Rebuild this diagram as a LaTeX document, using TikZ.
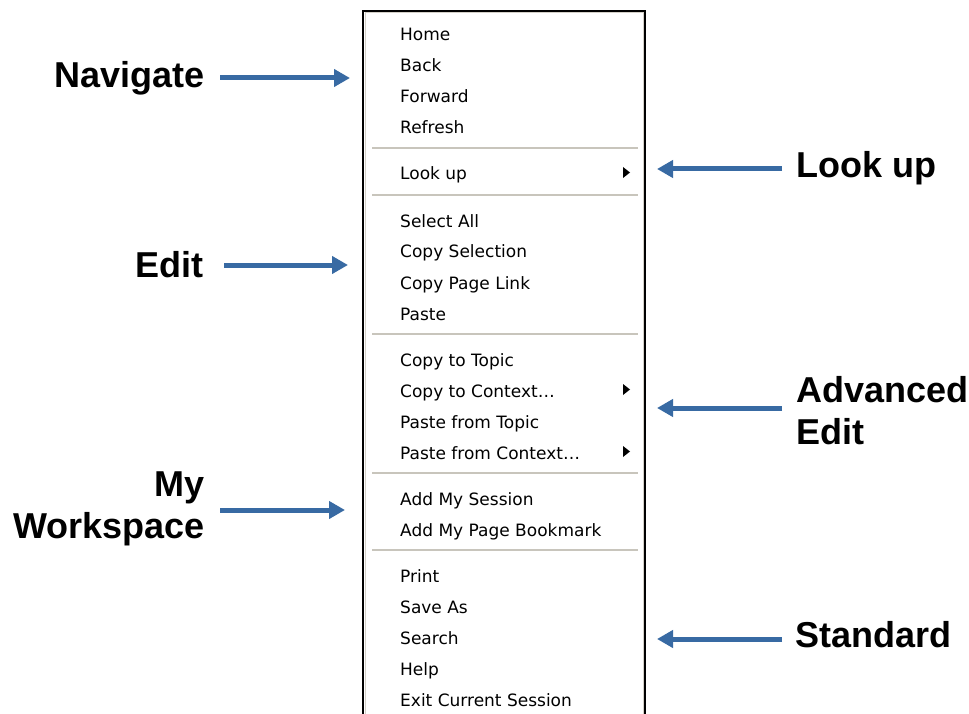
\documentclass[tikz,border=0pt]{standalone}
\usepackage{fontspec}
\setmainfont{Liberation Sans}
\newfontfamily\menufont{DejaVu Sans}
\usetikzlibrary{arrows.meta}
\definecolor{arrowblue}{RGB}{56,106,163}
\definecolor{sepgray}{RGB}{200,197,188}
\definecolor{framegray}{RGB}{212,208,200}

\tikzset{
  item/.style={anchor=base west, inner sep=0pt,
    font=\menufont\fontsize{17}{17}\selectfont},
  callout/.style={inner sep=0pt, font=\bfseries\fontsize{36}{42}\selectfont},
  pointer/.style={draw=arrowblue, line width=5pt,
    -{Triangle[length=16pt,width=17pt]}},
  sepline/.style={draw=sepgray, line width=1.6pt},
  submark/.style={fill=black},
}

\begin{document}
\begin{tikzpicture}[x=1pt,y=-1pt]
\useasboundingbox (0,0) rectangle (969,714);
\clip (0,0) rectangle (969,714);
\fill[white] (0,0) rectangle (969,714);

% context menu frame
\draw[black, line width=2pt] (363,11) rectangle (645,740);
\draw[framegray, line width=1pt] (365,13) rectangle (643,740);

% menu entries
\node[item] (home)    at (400,41)  {Home};
\node[item] (back)    at (400,72)  {Back};
\node[item] (forward) at (400,103) {Forward};
\node[item] (refresh) at (400,134) {Refresh};
\node[item] (lookup)  at (400,180) {Look up};
\node[item] (selall)  at (400,227) {Select All};
\node[item] (copysel) at (400,258) {Copy Selection};
\node[item] (copylnk) at (400,289) {Copy Page Link};
\node[item] (paste)   at (400,320) {Paste};
\node[item] (cptopic) at (400,366) {Copy to Topic};
\node[item] (cpctx)   at (400,397) {Copy to Context\ldots};
\node[item] (pstopic) at (400,428) {Paste from Topic};
\node[item] (psctx)   at (400,459) {Paste from Context\ldots};
\node[item] (addsess) at (400,505) {Add My Session};
\node[item] (addbook) at (400,536) {Add My Page Bookmark};
\node[item] (print)   at (400,582) {Print};
\node[item] (saveas)  at (400,613) {Save As};
\node[item] (search)  at (400,644) {Search};
\node[item] (help)    at (400,675) {Help};
\node[item] (exit)    at (400,706) {Exit Current Session};

% group separators
\foreach \y in {148,195,334,473,550}
  \draw[sepline] (372,\y) -- (638,\y);

% submenu markers
\foreach \n in {lookup,cpctx,psctx}
  \fill[submark] (623,0 |- \n.base) ++(0,-13) -- ++(0,11) -- ++(7,-5.5) -- cycle;

% callout labels
\node[callout, anchor=base east] (navigate) at (205,88) {Navigate};
\node[callout, anchor=base east] (edit) at (204,277) {Edit};
\node[callout, anchor=north east, align=right] (workspace) at (205,472) {My\\Workspace};
\node[callout, anchor=base west] (lookuplbl) at (796,178) {Look up};
\node[callout, anchor=north west, align=left] (advanced) at (796,376) {Advanced\\Edit};
\node[callout, anchor=base west] (standard) at (795,647) {Standard};

% arrow tips at the menu edge
\coordinate (navtip) at (350,78);
\coordinate (edittip) at (348,265);
\coordinate (worktip) at (345,510);
\coordinate (looktip) at (657,169);
\coordinate (advtip) at (657,408);
\coordinate (stdtip) at (657,639);

% pointers
\draw[pointer] ([xshift=15pt]navigate.east |- navtip) -- (navtip);
\draw[pointer] ([xshift=20pt]edit.east |- edittip) -- (edittip);
\draw[pointer] ([xshift=15pt]workspace.east |- worktip) -- (worktip);
\draw[pointer] ([xshift=-14pt]lookuplbl.west |- looktip) -- (looktip);
\draw[pointer] ([xshift=-14pt]advanced.west |- advtip) -- (advtip);
\draw[pointer] ([xshift=-13pt]standard.west |- stdtip) -- (stdtip);
\end{tikzpicture}
\end{document}
